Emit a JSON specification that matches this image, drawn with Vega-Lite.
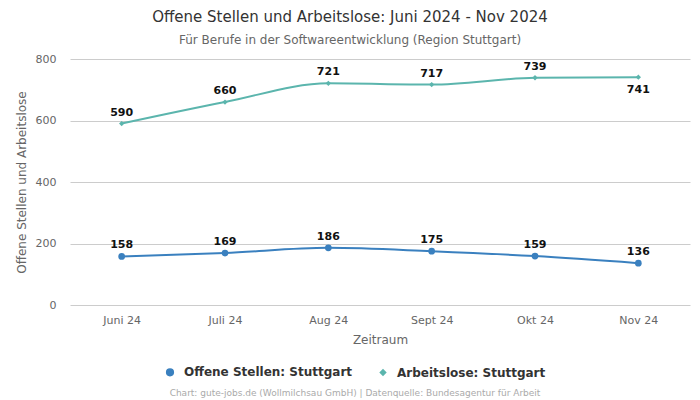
{
  "$schema": "https://vega.github.io/schema/vega-lite/v6.json",
  "autosize": {"type": "none"},
  "width": 620,
  "height": 246,
  "padding": {"left": 70, "top": 59, "right": 10, "bottom": 95},
  "background": "white",
  "title": {
    "text": "Offene Stellen und Arbeitslose: Juni 2024 - Nov 2024",
    "subtitle": "Für Berufe in der Softwareentwicklung (Region Stuttgart)",
    "fontSize": 15,
    "fontWeight": "normal",
    "color": "#333333",
    "subtitleFontSize": 12,
    "subtitleColor": "#666666",
    "subtitlePadding": 10,
    "offset": 7,
    "dx": -30,
    "anchor": "middle",
    "font": "DejaVu Sans",
    "subtitleFont": "DejaVu Sans"
  },
  "data": {
    "values": [
      {"monat": "Juni 24", "serie": "Offene Stellen: Stuttgart", "wert": 158},
      {"monat": "Juli 24", "serie": "Offene Stellen: Stuttgart", "wert": 169},
      {"monat": "Aug 24", "serie": "Offene Stellen: Stuttgart", "wert": 186},
      {"monat": "Sept 24", "serie": "Offene Stellen: Stuttgart", "wert": 175},
      {"monat": "Okt 24", "serie": "Offene Stellen: Stuttgart", "wert": 159},
      {"monat": "Nov 24", "serie": "Offene Stellen: Stuttgart", "wert": 136},
      {"monat": "Juni 24", "serie": "Arbeitslose: Stuttgart", "wert": 590},
      {"monat": "Juli 24", "serie": "Arbeitslose: Stuttgart", "wert": 660},
      {"monat": "Aug 24", "serie": "Arbeitslose: Stuttgart", "wert": 721},
      {"monat": "Sept 24", "serie": "Arbeitslose: Stuttgart", "wert": 717},
      {"monat": "Okt 24", "serie": "Arbeitslose: Stuttgart", "wert": 739},
      {"monat": "Nov 24", "serie": "Arbeitslose: Stuttgart", "wert": 741}
    ]
  },
  "encoding": {
    "x": {
      "field": "monat",
      "type": "ordinal",
      "sort": ["Juni 24", "Juli 24", "Aug 24", "Sept 24", "Okt 24", "Nov 24"],
      "scale": {"type": "point", "padding": 0.5},
      "axis": {
        "title": "Zeitraum",
        "labelAngle": 0,
        "ticks": false,
        "domain": false,
        "labelPadding": 9,
        "titlePadding": 9,
        "labelFontSize": 11,
        "labelColor": "#666666",
        "titleFontSize": 12,
        "titleFontWeight": "normal",
        "titleColor": "#666666",
        "labelFont": "DejaVu Sans",
        "titleFont": "DejaVu Sans"
      }
    },
    "y": {
      "field": "wert",
      "type": "quantitative",
      "scale": {"domain": [0, 800]},
      "axis": {
        "title": "Offene Stellen und Arbeitslose",
        "values": [0, 200, 400, 600, 800],
        "ticks": false,
        "domain": false,
        "gridColor": "#cccccc",
        "labelPadding": 14,
        "titlePadding": 7,
        "labelFontSize": 11,
        "labelColor": "#666666",
        "titleFontSize": 12,
        "titleFontWeight": "normal",
        "titleColor": "#666666",
        "labelFont": "DejaVu Sans",
        "titleFont": "DejaVu Sans"
      }
    },
    "color": {
      "field": "serie",
      "type": "nominal",
      "sort": ["Offene Stellen: Stuttgart", "Arbeitslose: Stuttgart"],
      "scale": {"domain": ["Offene Stellen: Stuttgart", "Arbeitslose: Stuttgart"], "range": ["#3a80bf", "#5bb5ad"]},
      "legend": {
        "title": "Chart: gute-jobs.de (Wollmilchsau GmbH) | Datenquelle: Bundesagentur für Arbeit",
        "titleOrient": "bottom",
        "titleAnchor": "middle",
        "titleFontSize": 9,
        "titleFontWeight": "normal",
        "titleColor": "#aaaaaa",
        "titleFont": "DejaVu Sans",
        "titlePadding": 10,
        "titleLimit": 600,
        "orient": "none",
        "direction": "horizontal",
        "legendX": 94,
        "legendY": 307,
        "labelFontSize": 12,
        "labelFontWeight": "bold",
        "labelColor": "#333333",
        "labelFont": "DejaVu Sans",
        "labelOffset": 8,
        "columnPadding": 24,
        "symbolSize": 60,
        "labelLimit": 300
      }
    }
  },
  "layer": [
    {
      "mark": {"type": "line", "interpolate": "monotone", "strokeWidth": 2}
    },
    {
      "mark": {"type": "point", "filled": true, "opacity": 1},
      "encoding": {
        "shape": {
          "field": "serie",
          "type": "nominal",
          "sort": ["Offene Stellen: Stuttgart", "Arbeitslose: Stuttgart"],
          "scale": {"domain": ["Offene Stellen: Stuttgart", "Arbeitslose: Stuttgart"], "range": ["circle", "diamond"]},
          "legend": null
        },
        "size": {
          "field": "serie",
          "type": "nominal",
          "scale": {"domain": ["Offene Stellen: Stuttgart", "Arbeitslose: Stuttgart"], "range": [45, 28]},
          "legend": null
        }
      }
    },
    {
      "transform": [{"filter": "datum.serie == 'Offene Stellen: Stuttgart' || datum.monat != 'Nov 24'"}],
      "mark": {"type": "text", "dy": -11, "fontSize": 11, "fontWeight": "bold", "font": "DejaVu Sans", "color": "#111111"},
      "encoding": {
        "text": {"field": "wert", "type": "quantitative"},
        "color": {"value": "#111111"}
      }
    },
    {
      "transform": [{"filter": "datum.serie == 'Arbeitslose: Stuttgart' && datum.monat == 'Nov 24'"}],
      "mark": {"type": "text", "dy": 13, "fontSize": 11, "fontWeight": "bold", "font": "DejaVu Sans", "color": "#111111"},
      "encoding": {
        "text": {"field": "wert", "type": "quantitative"},
        "color": {"value": "#111111"}
      }
    }
  ],
  "config": {"view": {"stroke": null}}
}
